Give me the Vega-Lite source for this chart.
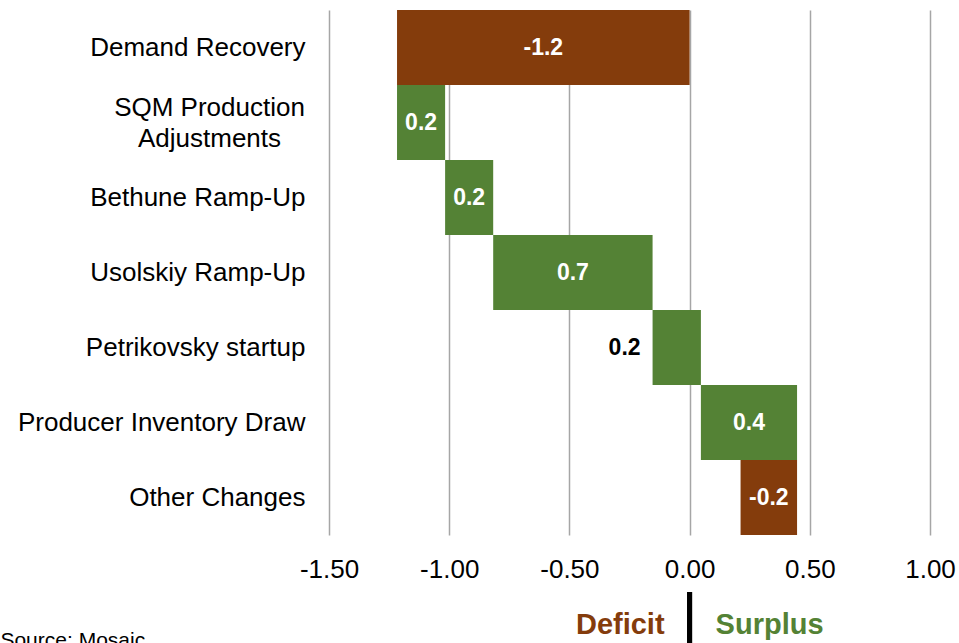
{
  "$schema": "https://vega.github.io/schema/vega-lite/v6.json",
  "padding": {"left": 0, "top": 10, "right": 0, "bottom": 0},
  "bounds": "flush",
  "spacing": 57,
  "config": {
    "view": {"stroke": null},
    "font": "Liberation Sans",
    "axis": {"labelFont": "Liberation Sans", "labelColor": "#000000"}
  },
  "title": {
    "text": "Source: Mosaic",
    "orient": "bottom",
    "anchor": "start",
    "fontSize": 21,
    "fontWeight": "normal",
    "font": "Liberation Sans",
    "color": "#000000",
    "offset": -31,
    "dx": -17
  },
  "datasets": {
    "steps": [
      {"cat": "Demand Recovery", "start": 0, "end": -1.217, "label": "-1.2", "direction": "decrease"},
      {"cat": "SQM Production Adjustments", "start": -1.217, "end": -1.017, "label": "0.2", "direction": "increase"},
      {"cat": "Bethune Ramp-Up", "start": -1.017, "end": -0.817, "label": "0.2", "direction": "increase"},
      {"cat": "Usolskiy Ramp-Up", "start": -0.817, "end": -0.154, "label": "0.7", "direction": "increase"},
      {"cat": "Petrikovsky startup", "start": -0.154, "end": 0.047, "label": "0.2", "direction": "increase"},
      {"cat": "Producer Inventory Draw", "start": 0.047, "end": 0.447, "label": "0.4", "direction": "increase"},
      {"cat": "Other Changes", "start": 0.447, "end": 0.212, "label": "-0.2", "direction": "decrease"}
    ],
    "sides": [
      {"side": "Deficit"},
      {"side": "Surplus"}
    ]
  },
  "vconcat": [
    {
      "width": 601,
      "height": 525,
      "data": {"name": "steps"},
      "encoding": {
        "y": {
          "field": "cat",
          "type": "nominal",
          "sort": ["Demand Recovery", "SQM Production Adjustments", "Bethune Ramp-Up", "Usolskiy Ramp-Up", "Petrikovsky startup", "Producer Inventory Draw", "Other Changes"],
          "scale": {"paddingInner": 0, "paddingOuter": 0},
          "axis": {
            "title": null,
            "domain": false,
            "ticks": false,
            "labelFontSize": 26,
            "labelLimit": 500,
            "labelLineHeight": 31,
            "labelAlign": {"condition": {"test": "datum.label == 'SQM Production Adjustments'", "value": "center"}, "value": "right"},
            "labelPadding": {"condition": {"test": "datum.label == 'SQM Production Adjustments'", "value": 120}, "value": 24},
            "labelOffset": {"condition": {"test": "datum.label == 'SQM Production Adjustments'", "value": -15}, "value": 0},
            "labelExpr": "datum.label == 'SQM Production Adjustments' ? ['SQM Production', 'Adjustments'] : datum.label"
          }
        }
      },
      "layer": [
        {
          "mark": {"type": "bar"},
          "encoding": {
            "x": {
              "field": "start",
              "type": "quantitative",
              "scale": {"domain": [-1.5, 1.0], "nice": false, "zero": false},
              "axis": {
                "title": null,
                "values": [-1.5, -1, -0.5, 0, 0.5, 1],
                "labelExpr": "(datum.value < 0 ? '-' : '') + format(abs(datum.value), '.2f')",
                "labelFlush": false,
                "labelOverlap": false,
                "domain": false,
                "ticks": false,
                "grid": true,
                "gridColor": "#a6a6a6",
                "gridWidth": 1.5,
                "labelFontSize": 26,
                "labelPadding": 21
              }
            },
            "x2": {"field": "end"},
            "color": {
              "field": "direction",
              "type": "nominal",
              "scale": {"domain": ["decrease", "increase"], "range": ["#843C0C", "#548235"]},
              "legend": null
            }
          }
        },
        {
          "mark": {"type": "rule", "color": "#000000", "strokeWidth": 5},
          "encoding": {"x": {"datum": 0, "type": "quantitative"}}
        },
        {
          "transform": [
            {"filter": "datum.cat != 'Petrikovsky startup'"},
            {"calculate": "(datum.start + datum.end) / 2", "as": "mid"}
          ],
          "mark": {"type": "text", "color": "#ffffff", "fontWeight": "bold", "fontSize": 23, "align": "center", "baseline": "middle"},
          "encoding": {
            "x": {"field": "mid", "type": "quantitative"},
            "text": {"field": "label"}
          }
        },
        {
          "transform": [{"filter": "datum.cat == 'Petrikovsky startup'"}],
          "mark": {"type": "text", "color": "#000000", "fontWeight": "bold", "fontSize": 23, "align": "right", "baseline": "middle", "dx": -12},
          "encoding": {
            "x": {"field": "start", "type": "quantitative"},
            "text": {"field": "label"}
          }
        }
      ]
    },
    {
      "width": 601,
      "height": 66,
      "data": {"name": "sides"},
      "layer": [
        {
          "mark": {"type": "rule", "color": "#000000", "strokeWidth": 5},
          "encoding": {"x": {"datum": 0, "type": "quantitative", "scale": {"domain": [-1.5, 1.0], "nice": false, "zero": false}, "axis": null}}
        },
        {
          "transform": [{"filter": "datum.side == 'Deficit'"}],
          "mark": {"type": "text", "color": "#843C0C", "fontWeight": "bold", "fontSize": 29, "align": "right", "baseline": "middle", "dx": -25},
          "encoding": {
            "x": {"datum": 0, "type": "quantitative"},
            "text": {"field": "side"}
          }
        },
        {
          "transform": [{"filter": "datum.side == 'Surplus'"}],
          "mark": {"type": "text", "color": "#548235", "fontWeight": "bold", "fontSize": 29, "align": "left", "baseline": "middle", "dx": 26},
          "encoding": {
            "x": {"datum": 0, "type": "quantitative"},
            "text": {"field": "side"}
          }
        }
      ]
    }
  ]
}
